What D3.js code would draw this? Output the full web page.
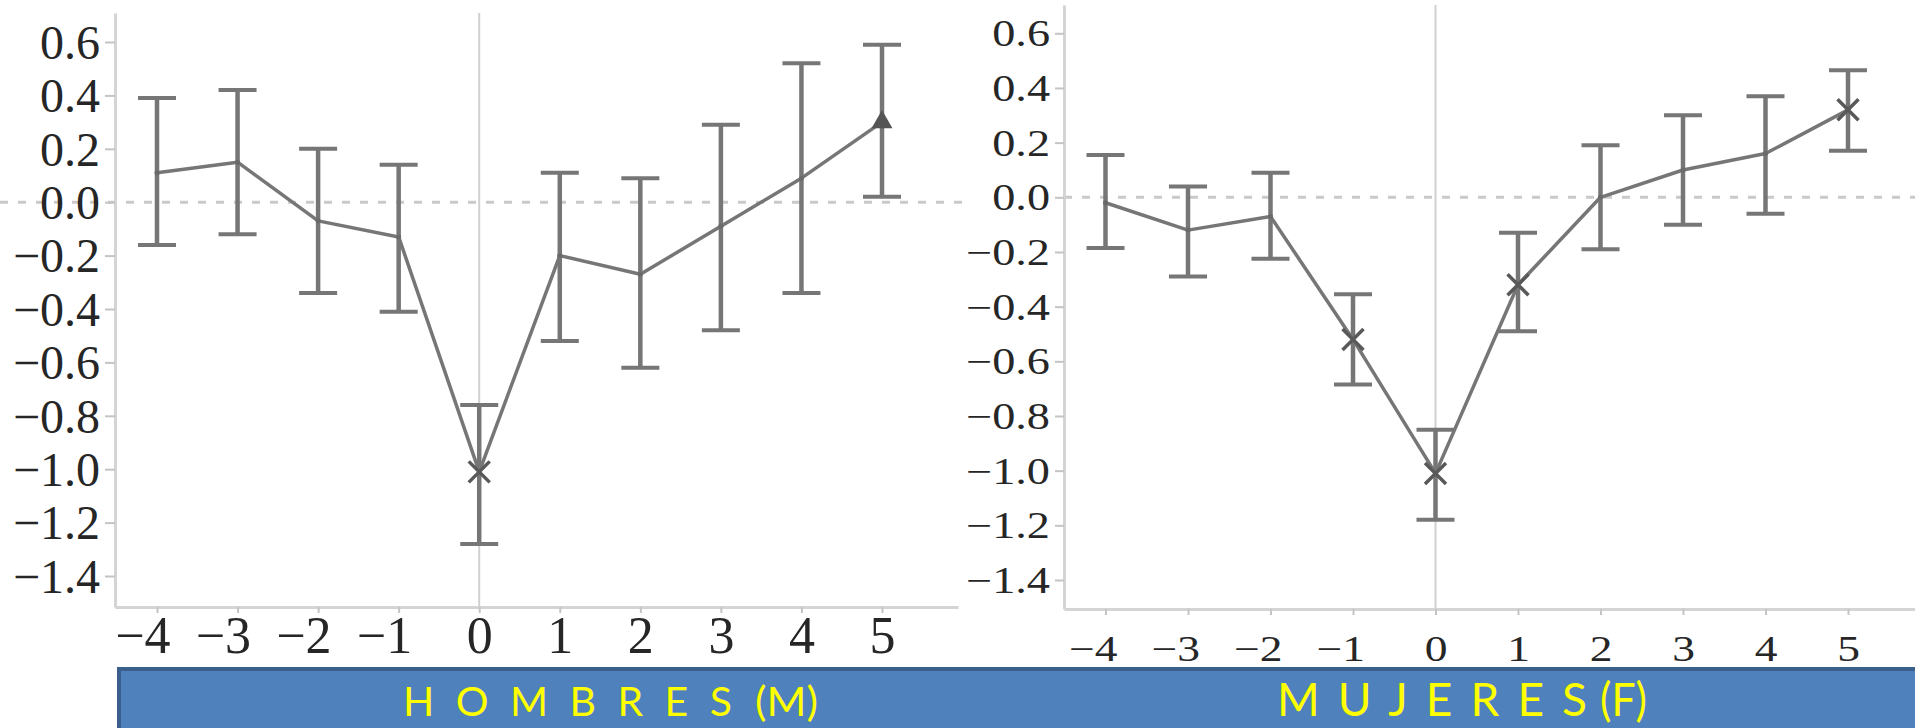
<!DOCTYPE html>
<html><head><meta charset="utf-8">
<script src="https://cdn.jsdelivr.net/npm/d3@7"></script>
<style>html,body{margin:0;padding:0;background:#fff;overflow:hidden}</style>
</head><body>
<svg id="chart" width="1915" height="728"></svg>
<script>
// ---------- data ----------
const periods = [-4, -3, -2, -1, 0, 1, 2, 3, 4, 5];
const yTickValues = [0.6, 0.4, 0.2, 0.0, -0.2, -0.4, -0.6, -0.8, -1.0, -1.2, -1.4];

const menMean   = [0.11, 0.15, -0.07, -0.13, -1.01, -0.20, -0.27, -0.09, 0.09, 0.30];
const menUpper  = [0.39, 0.42, 0.20, 0.14, -0.76, 0.11, 0.09, 0.29, 0.52, 0.59];
const menLower  = [-0.16, -0.12, -0.34, -0.41, -1.28, -0.52, -0.62, -0.48, -0.34, 0.02];
const menMarker = ["dot", "dot", "dot", "dot", "x", "dot", "dot", "dot", "dot", "triangle"];

const womenMean   = [-0.02, -0.12, -0.07, -0.52, -1.01, -0.32, 0.00, 0.10, 0.16, 0.32];
const womenUpper  = [0.155, 0.04, 0.09, -0.355, -0.85, -0.13, 0.19, 0.30, 0.37, 0.465];
const womenLower  = [-0.185, -0.29, -0.225, -0.685, -1.18, -0.49, -0.19, -0.10, -0.06, 0.17];
const womenMarker = ["dot", "dot", "dot", "x", "x", "x", "dot", "dot", "dot", "x"];

const panelTitles = ["H O M B R E S", "M U J E R E S"];
const panelCodes  = ["(M)", "(F)"];

// ---------- layout ----------
const svg = d3.select("#chart");
svg.append("rect").attr("width", 1915).attr("height", 728).attr("fill", "#fff");

const panels = [
  { mean: menMean, upper: menUpper, lower: menLower, marker: menMarker,
    xL: 115, xR: 958, xa: 157, xb: 882, yTop: 13, yBot: 607, ya: 42, yb: 576,
    yFont: 48, ySX: 1.0, xFont: 52, xSX: 1.0, yTick: 10, xBase: 653, dashFrom: 0, dashTo: 962 },
  { mean: womenMean, upper: womenUpper, lower: womenLower, marker: womenMarker,
    xL: 1064, xR: 1915, xa: 1105.5, xb: 1848, yTop: 5, yBot: 609, ya: 33.3, yb: 580,
    yFont: 37, ySX: 1.25, xFont: 35, xSX: 1.3, yTick: 9, xBase: 661, dashFrom: 1064, dashTo: 1915 }
];

const markColor = "#767676";
const fmt = d3.format(".1f");
const serif = "'Liberation Serif', 'Times New Roman', serif";

panels.forEach(p => {
  const x0 = d3.scaleLinear().domain([-4, 5]).range([p.xa, p.xb]);
  const x = d3.scaleLinear().domain([x0.invert(p.xL), x0.invert(p.xR)]).range([p.xL, p.xR]);
  const y0 = d3.scaleLinear().domain([0.6, -1.4]).range([p.ya, p.yb]);
  const y = d3.scaleLinear().domain([y0.invert(p.yBot), y0.invert(p.yTop)]).range([p.yBot, p.yTop]);

  const g = svg.append("g");

  // vertical reference line at 0
  g.append("line")
    .attr("x1", x(0)).attr("x2", x(0))
    .attr("y1", p.yTop).attr("y2", p.yBot)
    .attr("stroke", "#d0d0d0").attr("stroke-width", 2);

  // dashed zero line
  g.append("line")
    .attr("x1", p.dashFrom).attr("x2", p.dashTo)
    .attr("y1", y(0)).attr("y2", y(0))
    .attr("stroke", "#c9c9c9").attr("stroke-width", 3)
    .attr("stroke-dasharray", "8,10");

  // y axis
  const ya = g.append("g").attr("transform", `translate(${p.xL},0)`)
    .call(d3.axisLeft(y).tickValues(yTickValues).tickSize(p.yTick).tickPadding(5)
      .tickSizeOuter(0).tickFormat(d => fmt(d)));
  ya.select(".domain").attr("stroke", "#d4d4d4").attr("stroke-width", 3);
  ya.selectAll(".tick line").attr("stroke", "#c4c4c4").attr("stroke-width", 2);
  ya.selectAll(".tick text")
    .attr("font-family", serif)
    .attr("font-size", p.yFont).attr("fill", "#262626").attr("dy", "0.34em")
    .attr("x", 0)
    .attr("transform", `translate(${-(p.yTick + 5)},0) scale(${p.ySX},1)`);

  // x axis
  const xa = g.append("g").attr("transform", `translate(0,${p.yBot})`)
    .call(d3.axisBottom(x).tickValues(periods).tickSize(6).tickSizeOuter(0)
      .tickFormat(d => d3.format("d")(d)));
  xa.select(".domain").attr("stroke", "#d4d4d4").attr("stroke-width", 3);
  xa.selectAll(".tick line").attr("stroke", "#c4c4c4").attr("stroke-width", 2);
  xa.selectAll(".tick text")
    .attr("font-family", serif)
    .attr("font-size", p.xFont).attr("fill", "#262626")
    .attr("y", p.xBase - p.yBot).attr("dy", 0)
    .attr("text-anchor", d => d < 0 ? "end" : "middle")
    .attr("dx", d => d < 0 ? "0.25em" : 0)
    .attr("transform", `scale(${p.xSX},1)`);

  const data = periods.map((t, i) => ({ t, m: p.mean[i], hi: p.upper[i], lo: p.lower[i], mk: p.marker[i] }));

  // error bars
  const eb = g.append("g").attr("stroke", markColor).attr("fill", "none");
  eb.selectAll("line.v").data(data).join("line").attr("class", "v")
    .attr("x1", d => x(d.t)).attr("x2", d => x(d.t))
    .attr("y1", d => y(d.hi)).attr("y2", d => y(d.lo))
    .attr("stroke-width", 4.5);
  eb.selectAll("line.capT").data(data).join("line").attr("class", "capT")
    .attr("x1", d => x(d.t) - 19).attr("x2", d => x(d.t) + 19)
    .attr("y1", d => y(d.hi)).attr("y2", d => y(d.hi))
    .attr("stroke-width", 4);
  eb.selectAll("line.capB").data(data).join("line").attr("class", "capB")
    .attr("x1", d => x(d.t) - 19).attr("x2", d => x(d.t) + 19)
    .attr("y1", d => y(d.lo)).attr("y2", d => y(d.lo))
    .attr("stroke-width", 4);

  // connecting line
  g.append("path").datum(data)
    .attr("fill", "none").attr("stroke", markColor).attr("stroke-width", 3.5)
    .attr("stroke-linejoin", "round")
    .attr("d", d3.line().x(d => x(d.t)).y(d => y(d.m)));

  // markers
  const mk = g.append("g");
  data.forEach(d => {
    const cx = x(d.t), cy = y(d.m);
    if (d.mk === "x") {
      const s = 10.5;
      mk.append("path")
        .attr("d", `M${cx - s},${cy - s}L${cx + s},${cy + s}M${cx - s},${cy + s}L${cx + s},${cy - s}`)
        .attr("stroke", "#595959").attr("stroke-width", 3.5).attr("fill", "none");
    } else if (d.mk === "triangle") {
      mk.append("path")
        .attr("d", d3.symbol().type(d3.symbolTriangle).size(190)())
        .attr("transform", `translate(${cx},${cy})`)
        .attr("fill", "#555");
    } else {
      mk.append("circle").attr("cx", cx).attr("cy", cy).attr("r", 2.5).attr("fill", "#6a6a6a");
    }
  });
});

// ---------- bottom banner ----------
svg.append("rect")
  .attr("x", 119).attr("y", 669).attr("width", 1810).attr("height", 70)
  .attr("fill", "#4f81bd").attr("stroke", "#3b5f8c").attr("stroke-width", 4);

const banner = [
  { title: panelTitles[0], code: panelCodes[0], x1: 403, w1: 329, x2: 755, w2: 63, size: 41 },
  { title: panelTitles[1], code: panelCodes[1], x1: 1277, w1: 310, x2: 1600, w2: 47, size: 46 }
];
banner.forEach(b => {
  svg.append("text").text(b.title)
    .attr("x", b.x1).attr("y", 716)
    .attr("textLength", b.w1).attr("lengthAdjust", "spacing")
    .attr("font-family", "Lato, 'Open Sans', sans-serif").attr("font-size", b.size)
    .attr("fill", "#ffff00");
  svg.append("text").text(b.code)
    .attr("x", b.x2).attr("y", 716)
    .attr("textLength", b.w2).attr("lengthAdjust", "spacingAndGlyphs")
    .attr("font-family", "Lato, 'Open Sans', sans-serif").attr("font-size", b.size)
    .attr("fill", "#ffff00");
});
</script>
</body></html>
